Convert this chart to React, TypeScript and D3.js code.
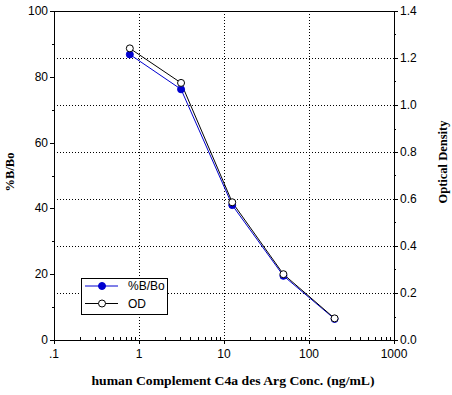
import React from "react";
import * as d3 from "d3";

const conc = [0.78, 3.125, 12.5, 50, 200];
const pctBBo = [86.8, 76.2, 41.0, 19.5, 6.4];
const odValues = [1.241, 1.094, 0.586, 0.28, 0.092];
const xTickValues = [0.1, 1, 10, 100, 1000];
const xTickLabels = [".1", "1", "10", "100", "1000"];
const leftTicks = [0, 20, 40, 60, 80, 100];
const rightTicks = [0, 0.2, 0.4, 0.6, 0.8, 1.0, 1.2, 1.4];
const seriesNames = ["%B/Bo", "OD"];

export default function App() {
  const W = 452, H = 395;
  const L = 54, R = 394, T = 11, B = 340;
  const x = d3.scaleLog().domain([0.1, 1000]).range([L, R]);
  const yL = d3.scaleLinear().domain([0, 100]).range([B, T]);
  const yR = d3.scaleLinear().domain([0, 1.4]).range([B, T]);
  const blue = "#0000d0";
  const tickFont = "'Liberation Sans', Arial, sans-serif";
  const labelFont = "'Liberation Serif', 'Times New Roman', serif";
  const mr = 3.5;

  const minorX: number[] = [];
  for (let d = 0.1; d < 1000; d *= 10) for (let k = 2; k <= 9; k++) minorX.push(d * k);
  const minorL = d3.range(10, 100, 20);
  const minorR = d3.range(0.1, 1.4, 0.2);

  const lineL = d3.line<number>().x((_, i) => x(conc[i])).y((v) => yL(v));
  const lineR = d3.line<number>().x((_, i) => x(conc[i])).y((v) => yR(v));

  return (
    <svg width={W} height={H} style={{ position: "absolute", left: 0, top: 0, background: "#fff" }}>
      <rect x={0} y={0} width={W} height={H} fill="#fff" />
      {/* grid */}
      <g stroke="#000" strokeWidth={1} strokeDasharray="1,2" shapeRendering="crispEdges">
        {[1, 10, 100].map((v) => (
          <line key={"gx" + v} x1={Math.round(x(v)) + 0.5} x2={Math.round(x(v)) + 0.5} y1={T} y2={B} />
        ))}
        {rightTicks.filter((v) => v > 0 && v < 1.4).map((v) => (
          <line key={"gy" + v} x1={L} x2={R} y1={Math.round(yR(v)) + 0.5} y2={Math.round(yR(v)) + 0.5} />
        ))}
      </g>
      {/* frame */}
      <rect x={L + 0.5} y={T + 0.5} width={R - L} height={B - T} fill="none" stroke="#000" strokeWidth={1} shapeRendering="crispEdges" />
      {/* ticks */}
      <g stroke="#000" strokeWidth={1} shapeRendering="crispEdges">
        {xTickValues.map((v) => (
          <line key={"xt" + v} x1={Math.round(x(v)) + 0.5} x2={Math.round(x(v)) + 0.5} y1={B} y2={B + 4} />
        ))}
        {minorX.map((v, i) => (
          <line key={"xm" + i} x1={Math.round(x(v)) + 0.5} x2={Math.round(x(v)) + 0.5} y1={B - 3} y2={B} />
        ))}
        {leftTicks.map((v) => (
          <line key={"lt" + v} x1={L - 4} x2={L} y1={Math.round(yL(v)) + 0.5} y2={Math.round(yL(v)) + 0.5} />
        ))}
        {minorL.map((v) => (
          <line key={"lm" + v} x1={L - 2} x2={L} y1={Math.round(yL(v)) + 0.5} y2={Math.round(yL(v)) + 0.5} />
        ))}
        {rightTicks.map((v) => (
          <line key={"rt" + v} x1={R} x2={R + 4} y1={Math.round(yR(v)) + 0.5} y2={Math.round(yR(v)) + 0.5} />
        ))}
        {minorR.map((v, i) => (
          <line key={"rm" + i} x1={R} x2={R + 2} y1={Math.round(yR(v)) + 0.5} y2={Math.round(yR(v)) + 0.5} />
        ))}
      </g>
      {/* tick labels */}
      <g fontFamily={tickFont} fontSize={12} fill="#000">
        {xTickValues.map((v, i) => (
          <text key={"xl" + v} x={x(v)} y={B + 18} textAnchor="middle">{xTickLabels[i]}</text>
        ))}
        {leftTicks.map((v) => (
          <text key={"ll" + v} x={L - 6} y={yL(v) + 4} textAnchor="end">{v}</text>
        ))}
        {rightTicks.map((v) => (
          <text key={"rl" + v} x={R + 6} y={yR(v) + 4} textAnchor="start">{v.toFixed(1)}</text>
        ))}
      </g>
      {/* axis titles */}
      <g fontFamily={labelFont} fontSize={12.5} fontWeight="bold" fill="#000">
        <text x={233} y={385} textAnchor="middle" textLength={283} lengthAdjust="spacingAndGlyphs">
          human Complement C4a des Arg Conc. (ng/mL)
        </text>
        <text transform={`translate(14,172) rotate(-90)`} textAnchor="middle">%B/Bo</text>
        <text transform={`translate(447,162) rotate(-90)`} textAnchor="middle">Optical Density</text>
      </g>
      {/* series */}
      <path d={lineL(pctBBo) || ""} fill="none" stroke={blue} strokeWidth={1} />
      <path d={lineR(odValues) || ""} fill="none" stroke="#000" strokeWidth={1} />
      {pctBBo.map((v, i) => (
        <circle key={"pb" + i} cx={x(conc[i])} cy={yL(v)} r={mr} fill={blue} stroke={blue} strokeWidth={1} />
      ))}
      {odValues.map((v, i) => (
        <circle key={"od" + i} cx={x(conc[i])} cy={yR(v)} r={mr} fill="#fff" stroke="#000" strokeWidth={1} />
      ))}
      {/* legend */}
      <g>
        <rect x={81.5} y={278.5} width={86} height={36} fill="#fff" stroke="#000" strokeWidth={1} shapeRendering="crispEdges" />
        <line x1={85} x2={118} y1={286} y2={286} stroke={blue} />
        <circle cx={102} cy={286} r={mr} fill={blue} stroke={blue} />
        <line x1={85} x2={118} y1={303.5} y2={303.5} stroke="#000" />
        <circle cx={102} cy={303.5} r={mr} fill="#fff" stroke="#000" />
        <text x={128} y={290} fontFamily={tickFont} fontSize={12} fill="#000">{seriesNames[0]}</text>
        <text x={128} y={308} fontFamily={tickFont} fontSize={12} fill="#000">{seriesNames[1]}</text>
      </g>
    </svg>
  );
}
